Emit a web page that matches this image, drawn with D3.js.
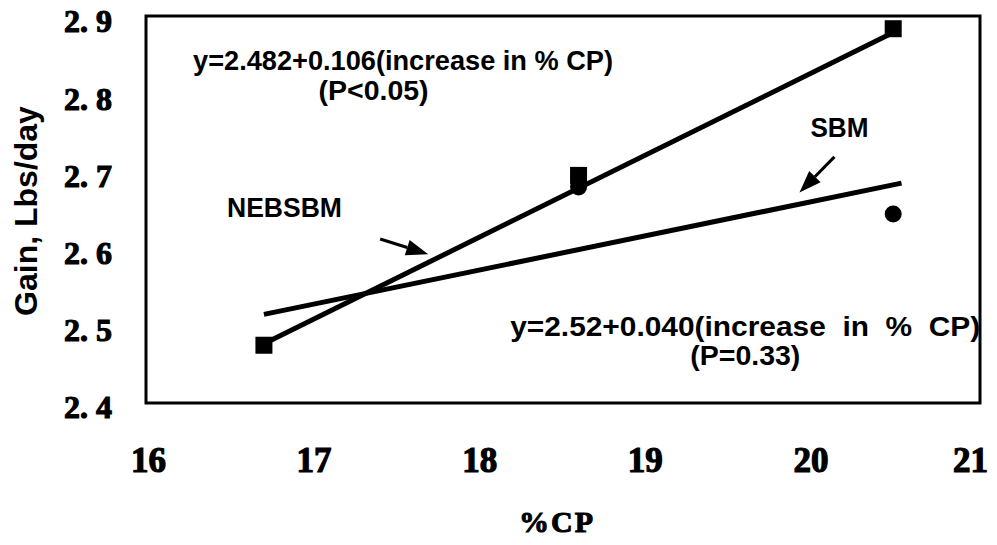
<!DOCTYPE html>
<html>
<head>
<meta charset="utf-8">
<script src="https://cdn.jsdelivr.net/npm/d3@7"></script>
<style>
  html, body { margin: 0; padding: 0; background: #fff; }
  svg { display: block; }
</style>
</head>
<body>
<svg id="chart" width="997" height="545"></svg>
<script>
// ---- data ----
const cpTicks = [16, 17, 18, 19, 20, 21];
const gainTicks = [2.4, 2.5, 2.6, 2.7, 2.8, 2.9];

// NEBSBM observations (squares)
const nebsbmCP = [16.7, 18.6, 20.5];
const nebsbmGain = [2.48, 2.70, 2.89];

// SBM observations (circles)
const sbmCP = [18.6, 20.5];
const sbmGain = [2.685, 2.65];

// fitted regression lines (end points)
const nebsbmFitCP = [16.7, 20.5];
const nebsbmFitGain = [2.482, 2.885];
const sbmFitCP = [16.7, 20.55];
const sbmFitGain = [2.52, 2.69];

// annotations (data coordinates)
const labelTexts = ["NEBSBM", "SBM",
  "y=2.482+0.106(increase in % CP)", "(P<0.05)",
  "y=2.52+0.040(increase  in  %  CP)", "(P=0.33)"];
const labelCP = [16.477, 20.0, 16.272, 17.03, 18.187, 19.275];
const labelGain = [2.646, 2.750, 2.8365, 2.798, 2.492, 2.4544];
const labelWidths = [115, 58, 420, 110, 470, 110];

const arrowFromCP = [17.402, 20.145];
const arrowFromGain = [2.6176, 2.724];
const arrowToCP = [17.692, 19.934];
const arrowToGain = [2.598, 2.678];

// ---- scales ----
const svg = d3.select("#chart");
const x = d3.scaleLinear().domain([16, 21]).range([148, 976]);
const y = d3.scaleLinear().domain([2.4, 2.9]).range([407, 21]);

const serif = "'Liberation Serif', 'Times New Roman', serif";
const sans = "'Liberation Sans', Arial, Helvetica, sans-serif";

// frame
const fx0 = x(16) - 2, fx1 = x(21) + 4, fy0 = y(2.9) - 5, fy1 = y(2.4) - 4;
svg.append("rect")
  .attr("x", fx0).attr("y", fy0)
  .attr("width", fx1 - fx0).attr("height", fy1 - fy0)
  .attr("fill", "none").attr("stroke", "#000").attr("stroke-width", 3);

// y axis
const yAxis = d3.axisLeft(y).tickValues(gainTicks).tickSize(0).tickPadding(34)
  .tickFormat(d => d.toFixed(1).replace(".", ". "));
const gy = svg.append("g").attr("transform", `translate(${fx0},0)`).call(yAxis);
gy.select(".domain").remove();
gy.selectAll("text")
  .attr("font-family", serif).attr("font-weight", "bold").attr("font-size", 32)
  .attr("fill", "#000").attr("stroke", "#000").attr("stroke-width", 1.1)
  .attr("dy", "0.34em")
  .style("white-space", "pre");

// x axis
const xAxis = d3.axisBottom(x).tickValues(cpTicks).tickSize(0).tickFormat(d3.format("d"));
const gx = svg.append("g").attr("transform", `translate(0,${fy1})`).call(xAxis);
gx.select(".domain").remove();
gx.selectAll("text")
  .attr("font-family", serif).attr("font-weight", "bold").attr("font-size", 35)
  .attr("fill", "#000").attr("stroke", "#000").attr("stroke-width", 1.2)
  .attr("dy", null).attr("y", 472 - fy1)
  .attr("dx", d => d === 21 ? -6 : 0);

// axis titles
svg.append("text")
  .attr("x", 557).attr("y", 532).attr("text-anchor", "middle")
  .attr("font-family", serif).attr("font-weight", "bold").attr("font-size", 30)
  .attr("stroke", "#000").attr("stroke-width", 1)
  .attr("letter-spacing", 2)
  .text("%CP");

svg.append("text")
  .attr("transform", "translate(37,211) rotate(-90)")
  .attr("text-anchor", "middle")
  .attr("font-family", sans).attr("font-weight", "bold").attr("font-size", 32)
  .text("Gain, Lbs/day");

// regression lines
const lineGen = d3.line().x(d => x(d[0])).y(d => y(d[1]));
svg.append("path")
  .datum(d3.zip(nebsbmFitCP, nebsbmFitGain))
  .attr("d", lineGen).attr("fill", "none").attr("stroke", "#000").attr("stroke-width", 5);
svg.append("path")
  .datum(d3.zip(sbmFitCP, sbmFitGain))
  .attr("d", lineGen).attr("fill", "none").attr("stroke", "#000").attr("stroke-width", 5);

// markers
const sq = 17;
svg.selectAll("rect.neb")
  .data(d3.zip(nebsbmCP, nebsbmGain))
  .enter().append("rect").attr("class", "neb")
  .attr("x", d => x(d[0]) - sq / 2).attr("y", d => y(d[1]) - sq / 2)
  .attr("width", sq).attr("height", sq).attr("fill", "#000");
svg.selectAll("circle.sbm")
  .data(d3.zip(sbmCP, sbmGain))
  .enter().append("circle").attr("class", "sbm")
  .attr("cx", d => x(d[0])).attr("cy", d => y(d[1])).attr("r", 8.5).attr("fill", "#000");

// arrows
arrowFromCP.forEach((_, i) => {
  const x0 = x(arrowFromCP[i]), y0 = y(arrowFromGain[i]);
  const x1 = x(arrowToCP[i]), y1 = y(arrowToGain[i]);
  const ang = Math.atan2(y1 - y0, x1 - x0);
  const hl = 22, hw = 8;
  const bx = x1 - hl * Math.cos(ang), by = y1 - hl * Math.sin(ang);
  svg.append("line").attr("x1", x0).attr("y1", y0).attr("x2", bx).attr("y2", by)
    .attr("stroke", "#000").attr("stroke-width", 3);
  const pts = [
    [x1, y1],
    [bx + hw * Math.sin(ang), by - hw * Math.cos(ang)],
    [bx - hw * Math.sin(ang), by + hw * Math.cos(ang)]
  ];
  svg.append("polygon").attr("points", pts.map(p => p.join(",")).join(" ")).attr("fill", "#000");
});

// annotation texts
labelTexts.forEach((t, i) => {
  svg.append("text")
    .attr("x", x(labelCP[i])).attr("y", y(labelGain[i]))
    .attr("font-family", sans).attr("font-weight", "bold").attr("font-size", 27)
    .attr("textLength", labelWidths[i]).attr("lengthAdjust", "spacingAndGlyphs")
    .style("white-space", "pre")
    .text(t);
});
</script>
</body>
</html>
